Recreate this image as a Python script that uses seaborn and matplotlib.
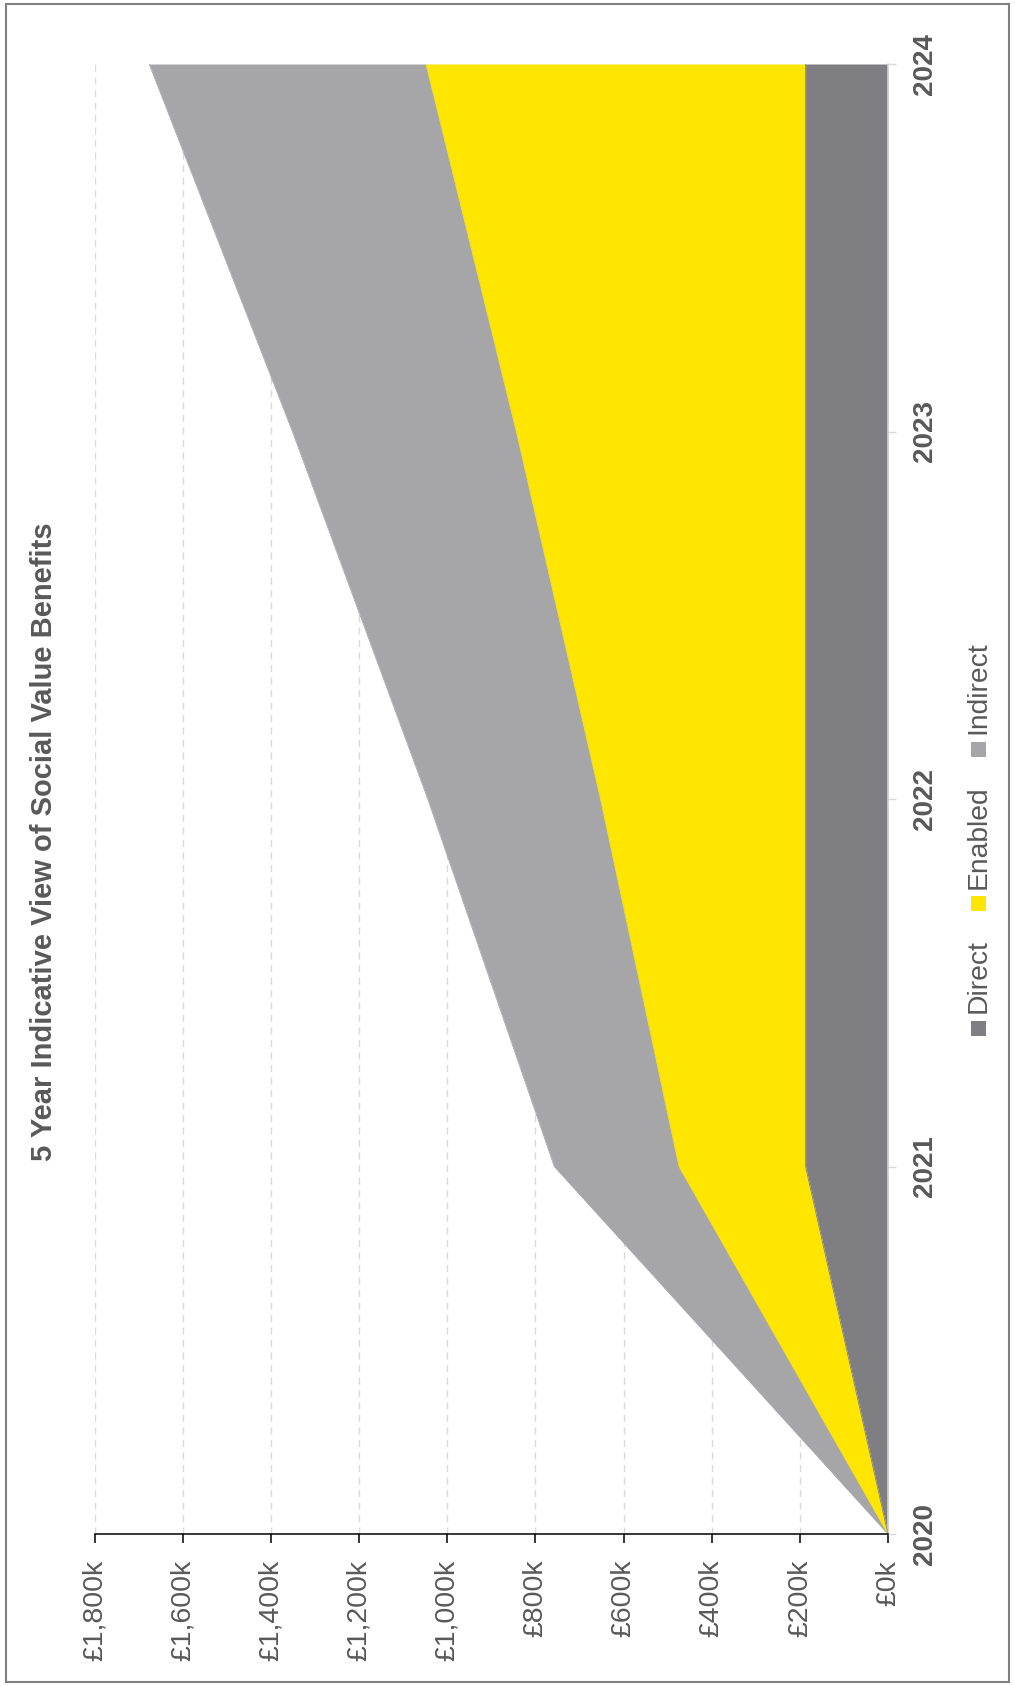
import matplotlib
matplotlib.use("Agg")
import matplotlib.pyplot as plt
import seaborn as sns
import pandas as pd
import numpy as np
from matplotlib.patches import Rectangle

# ---- data ----
years = [2020, 2021, 2022, 2023, 2024]
direct = [0, 187, 187, 187, 187]
enabled = [0, 287, 465, 656, 861]
indirect = [0, 283, 392, 508, 628]
series_names = ["Direct", "Enabled", "Indirect"]
series_colors = ["#7f7e83", "#ffe600", "#a6a6a8"]
value_ticks = [0, 200, 400, 600, 800, 1000, 1200, 1400, 1600, 1800]
value_labels = [f"£{v:,}k" for v in value_ticks]
year_labels = [str(y) for y in years]
title = "5 Year Indicative View of Social Value Benefits"

TEXT = "#595959"
GRID = "#d9d9d9"
W, H = 1015, 1686

sns.set_theme(style="white")
plt.rcParams["font.family"] = ["Liberation Sans", "DejaVu Sans"]

df = pd.DataFrame({"year": years, "Direct": direct, "Enabled": enabled, "Indirect": indirect})
cum = df[series_names].cumsum(axis=1)
cum["year"] = df["year"]
cum_long = cum.melt(id_vars="year", var_name="series", value_name="value")

fig = plt.figure(figsize=(W / 100, H / 100), dpi=100)
ax = fig.add_axes([94.5 / W, (H - 1534) / H, (888 - 94.5) / W, (1534 - 64) / H])

lower = np.zeros(len(years))
for name, color in zip(series_names, series_colors):
    upper = lower + df[name].to_numpy()
    ax.fill_betweenx(df["year"], lower, upper, color=color, linewidth=0, zorder=2)
    lower = upper

sns.lineplot(data=cum_long, x="value", y="year", hue="series", hue_order=series_names,
             palette=series_colors, orient="y", legend=False, linewidth=0.6, ax=ax,
             zorder=3, estimator=None, sort=True)

ax.set_xlim(1800, 0)
ax.set_ylim(2020, 2024)
ax.set_xlabel("")
ax.set_ylabel("")

ax.set_xticks(value_ticks)
ax.set_xticklabels(value_labels, rotation=90, fontsize=20.5, color=TEXT, ha="center", va="top")
ax.tick_params(axis="x", length=6.5, width=1.1, color="black", pad=12, direction="out", bottom=True)

ax.yaxis.tick_right()
ax.set_yticks(years)
ax.set_yticklabels(year_labels, rotation=90, fontsize=20, fontweight="bold", color=TEXT,
                   ha="left", va="center")
ax.tick_params(axis="y", length=5.5, width=1.0, color=GRID, pad=12, direction="out",
               right=True, left=False)

for s in ["left", "top"]:
    ax.spines[s].set_visible(False)
ax.spines["bottom"].set_color("black")
ax.spines["bottom"].set_linewidth(1.1)
ax.spines["right"].set_color(GRID)
ax.spines["right"].set_linewidth(1.1)
ax.spines["bottom"].set_zorder(5)

ax.set_axisbelow(True)
ax.xaxis.grid(True, color=GRID, linestyle=(0, (5, 4)), linewidth=1.0)
ax.yaxis.grid(False)
ax.set_facecolor("white")

# title (rotated)
fig.text(44 / W, 1 - 842 / H, title, rotation=90, ha="center", va="center",
         fontsize=21, fontweight="bold", color=TEXT)

# legend (rotated, manual)
marker_centers = [1028, 904, 749]
mx = 978.5
msize = 15
for name, color, cy in zip(series_names, series_colors, marker_centers):
    fig.patches.append(Rectangle(((mx - msize / 2) / W, 1 - (cy + msize / 2) / H),
                                 msize / W, msize / H, transform=fig.transFigure,
                                 facecolor=color, edgecolor="none", figure=fig))
    fig.text(mx / W, 1 - (cy - 15) / H, name, rotation=90, ha="center", va="bottom",
             fontsize=20.3, color=TEXT)

# outer border
fig.patches.append(Rectangle((6 / W, 4 / H), (1009 - 6) / W, (1682 - 4) / H,
                             transform=fig.transFigure, facecolor="none",
                             edgecolor="#808080", linewidth=1.5, figure=fig))

fig.savefig("out.png", dpi=100, facecolor="white")
